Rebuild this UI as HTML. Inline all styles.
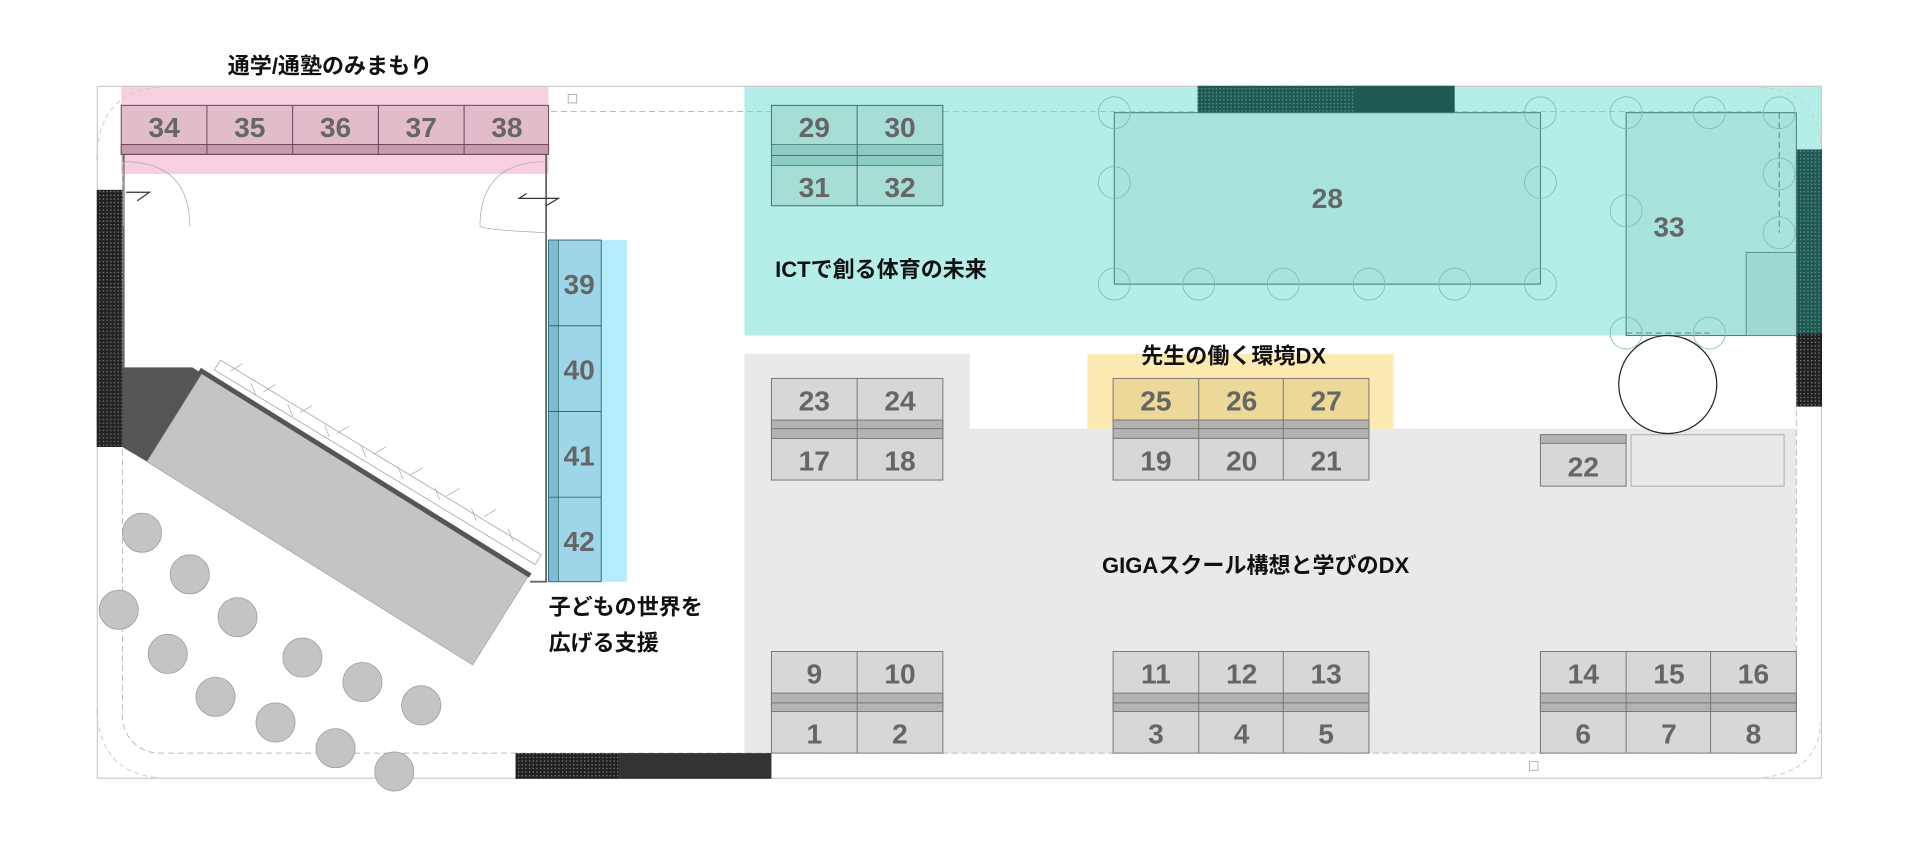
<!DOCTYPE html>
<html><head><meta charset="utf-8"><style>
html,body{margin:0;padding:0;background:#fff;width:1920px;height:845px;overflow:hidden}
svg{display:block}
.n{font-family:"Liberation Sans","Noto Sans CJK JP",sans-serif;font-weight:bold;font-size:23px;fill:#666;text-anchor:middle}
.t{font-family:"Liberation Sans","Noto Sans CJK JP",sans-serif;font-weight:bold;font-size:18px;fill:#111}
</style></head><body>
<svg width="1920" height="845" viewBox="0 0 1568 690" xmlns="http://www.w3.org/2000/svg">
<defs>
<pattern id="hb" width="3" height="3" patternUnits="userSpaceOnUse"><rect width="3" height="3" fill="#222"/><rect width="1" height="1" fill="#888"/></pattern>
<pattern id="ht" width="3" height="3" patternUnits="userSpaceOnUse"><rect width="3" height="3" fill="#1e5a53"/><rect width="1" height="1" fill="#6a9a94"/></pattern>
</defs>
<rect x="99" y="70" width="349" height="72" fill="#f7cfe0"/>
<rect x="448" y="196" width="64" height="279" fill="#b3ecfa"/>
<rect x="608" y="70" width="880" height="204" fill="#b3efe8"/>
<path d="M608 289H792V350H1467V615H608Z" fill="#e8e9eb"/>
<rect x="888" y="289" width="250" height="61" fill="#fdeab0"/>
<rect x="79.5" y="70.5" width="1408" height="565" fill="none" stroke="#ccc" stroke-width="1"/>
<rect x="100" y="91" width="1367" height="524" rx="30" fill="none" stroke="#bbb" stroke-dasharray="5,3" stroke-width="0.8"/>
<path d="M79 130 Q80 75 130 71 M1438 71 Q1485 75 1487 120 M79 580 Q82 632 130 635 M1440 635 Q1485 630 1487 590" fill="none" stroke="#ccc" stroke-dasharray="4,3" stroke-width="0.8"/>
<rect x="464" y="77" width="7" height="7" fill="#fff" stroke="#999" stroke-width="0.6"/>
<rect x="1249" y="622" width="7" height="7" fill="#fff" stroke="#999" stroke-width="0.6"/>
<rect x="79" y="155" width="21" height="80" fill="url(#hb)"/>
<rect x="79" y="235" width="21" height="130" fill="#333"/>
<rect x="79" y="235" width="21" height="130" fill="url(#hb)" opacity="0.8"/>
<rect x="421" y="615" width="85" height="21" fill="url(#hb)"/>
<rect x="506" y="615" width="124" height="21" fill="#333"/>
<rect x="978" y="70" width="127" height="22" fill="url(#ht)"/>
<rect x="1105" y="70" width="83" height="22" fill="#1e5a53"/>
<rect x="1467" y="122" width="21" height="150" fill="url(#ht)"/>
<rect x="1467" y="272" width="21" height="60" fill="url(#hb)"/>
<path d="M101 126V300M446 126V475H433" fill="none" stroke="#666" stroke-width="1.5"/>
<path d="M101 132 Q155 132 155 185 M101 185 V132" fill="none" stroke="#aaa" stroke-width="0.6"/>
<path d="M446 132 Q392 132 392 185 Q400 188 446 190" fill="none" stroke="#aaa" stroke-width="0.6"/>
<path d="M103 157H122L112 164M430 158L424 162H456L446 168" fill="none" stroke="#333" stroke-width="1"/>
<rect x="99" y="86" width="349" height="40" fill="#e3bccb" stroke="#6e4456" stroke-width="0.8"/>
<rect x="99" y="118" width="349" height="8" fill="#c99aad" stroke="#6e4456" stroke-width="0.8"/>
<path d="M169 86V126M239 86V126M309 86V126M379 86V126" stroke="#6e4456" stroke-width="0.8"/>
<text class="n" x="134" y="112">34</text><text class="n" x="204" y="112">35</text><text class="n" x="274" y="112">36</text><text class="n" x="344" y="112">37</text><text class="n" x="414" y="112">38</text>
<rect x="448" y="196" width="43" height="279" fill="#9dd6e8" stroke="#2e6a7a" stroke-width="0.8"/>
<rect x="448" y="196" width="8" height="279" fill="#7fbcd0" stroke="#2e6a7a" stroke-width="0.6"/>
<path d="M448 266H491M448 336H491M448 406H491" stroke="#2e6a7a" stroke-width="0.8"/>
<text class="n" x="473" y="240">39</text><text class="n" x="473" y="310">40</text><text class="n" x="473" y="380">41</text><text class="n" x="473" y="450">42</text>
<path d="M100 300H157L165 305L120 377L100 365Z" fill="#555"/>
<path d="M165 305L433 468L386 543L120 377Z" fill="#c4c4c4" stroke="#999" stroke-width="0.5"/>
<path d="M163 302L433 470" stroke="#555" stroke-width="4"/>
<path d="M180 294L442 453L437 461L175 302Z" fill="#fff" stroke="#aaa" stroke-width="0.7"/>
<path d="M188 303l10 -6M205 313l4 10M215 320l10 -6M235 330l4 10M245 337l10 -6M265 347l4 10M275 354l10 -6M295 364l4 10M305 371l10 -6M325 381l4 10M335 388l10 -6M355 398l4 10M365 405l10 -6M385 415l4 10M395 422l10 -6M415 432l4 10" stroke="#aaa" stroke-width="0.6"/>
<g fill="#c4c4c4" stroke="#999" stroke-width="0.6">
<circle cx="116" cy="435" r="16"/><circle cx="155" cy="469" r="16"/><circle cx="97" cy="498" r="16"/><circle cx="194" cy="504" r="16"/><circle cx="137" cy="534" r="16"/><circle cx="247" cy="537" r="16"/><circle cx="176" cy="569" r="16"/><circle cx="296" cy="557" r="16"/><circle cx="225" cy="590" r="16"/><circle cx="344" cy="576" r="16"/><circle cx="274" cy="611" r="16"/><circle cx="322" cy="630" r="16"/>
</g>
<rect x="910" y="92" width="348" height="140" fill="#a8e4dc" stroke="#4a7a72" stroke-width="0.8"/>
<rect x="1328" y="92" width="139" height="182" fill="#a8e4dc" stroke="#4a7a72" stroke-width="0.8"/>
<rect x="1426" y="206" width="41" height="68" fill="#9fdad2" stroke="#4a7a72" stroke-width="0.6"/>
<path d="M910 232H1258M1328 272H1396M1453 92V190" stroke="#4a7a72" stroke-dasharray="5,3" stroke-width="0.7" fill="none"/>
<g fill="none" stroke="#7fbdb3" stroke-width="0.7">
<circle cx="910" cy="92" r="13"/><circle cx="1258" cy="92" r="13"/><circle cx="910" cy="149" r="13"/><circle cx="1258" cy="149" r="13"/>
<circle cx="910" cy="232" r="13"/><circle cx="979" cy="232" r="13"/><circle cx="1048" cy="232" r="13"/><circle cx="1118" cy="232" r="13"/><circle cx="1188" cy="232" r="13"/><circle cx="1258" cy="232" r="13"/>
<circle cx="1328" cy="92" r="13"/><circle cx="1396" cy="92" r="13"/><circle cx="1453" cy="92" r="13"/><circle cx="1328" cy="172" r="13"/><circle cx="1453" cy="142" r="13"/><circle cx="1453" cy="190" r="13"/><circle cx="1328" cy="272" r="13"/><circle cx="1396" cy="272" r="13"/>
</g>
<text class="n" x="1084" y="170">28</text><text class="n" x="1363" y="193">33</text>
<rect x="630" y="86" width="140" height="82" fill="#a6ddd5" stroke="#3e7068" stroke-width="0.8"/>
<rect x="630" y="118" width="140" height="17" fill="#8ecbc2" stroke="#3e7068" stroke-width="0.6"/>
<path d="M630 127H770M700 86V168" stroke="#3e7068" stroke-width="0.8"/>
<text class="n" x="665" y="112">29</text><text class="n" x="735" y="112">30</text><text class="n" x="665" y="161">31</text><text class="n" x="735" y="161">32</text>
<g stroke="#777" stroke-width="0.8">
<rect x="630" y="309" width="140" height="83" fill="#d6d7d9"/><rect x="630" y="343" width="140" height="15" fill="#b3b3b3"/><path d="M630 350H770M700 309V392"/>
<rect x="909" y="309" width="209" height="34" fill="#ecd99a"/><rect x="909" y="343" width="209" height="15" fill="#b3b3b3"/><rect x="909" y="358" width="209" height="34" fill="#d6d7d9"/><path d="M909 350H1118M979 309V392M1048 309V392"/>
<rect x="630" y="532" width="140" height="83" fill="#d6d7d9"/><rect x="630" y="566" width="140" height="15" fill="#b3b3b3"/><path d="M630 574H770M700 532V615"/>
<rect x="909" y="532" width="209" height="83" fill="#d6d7d9"/><rect x="909" y="566" width="209" height="15" fill="#b3b3b3"/><path d="M909 574H1118M979 532V615M1048 532V615"/>
<rect x="1258" y="532" width="209" height="83" fill="#d6d7d9"/><rect x="1258" y="566" width="209" height="15" fill="#b3b3b3"/><path d="M1258 574H1467M1328 532V615M1397 532V615"/>
<rect x="1258" y="355" width="70" height="42" fill="#d6d7d9"/><rect x="1258" y="355" width="70" height="7" fill="#b3b3b3"/>
<rect x="1332" y="355" width="125" height="42" fill="#e8e9eb" stroke="#aaa"/>
</g>
<circle cx="1362" cy="314" r="40" fill="#fff" stroke="#222" stroke-width="1"/>
<text class="n" x="665" y="335">23</text><text class="n" x="735" y="335">24</text><text class="n" x="665" y="384">17</text><text class="n" x="735" y="384">18</text>
<text class="n" x="944" y="335">25</text><text class="n" x="1014" y="335">26</text><text class="n" x="1083" y="335">27</text>
<text class="n" x="944" y="384">19</text><text class="n" x="1014" y="384">20</text><text class="n" x="1083" y="384">21</text>
<text class="n" x="1293" y="389">22</text>
<text class="n" x="665" y="558">9</text><text class="n" x="735" y="558">10</text><text class="n" x="665" y="607">1</text><text class="n" x="735" y="607">2</text>
<text class="n" x="944" y="558">11</text><text class="n" x="1014" y="558">12</text><text class="n" x="1083" y="558">13</text>
<text class="n" x="944" y="607">3</text><text class="n" x="1014" y="607">4</text><text class="n" x="1083" y="607">5</text>
<text class="n" x="1293" y="558">14</text><text class="n" x="1363" y="558">15</text><text class="n" x="1432" y="558">16</text>
<text class="n" x="1293" y="607">6</text><text class="n" x="1363" y="607">7</text><text class="n" x="1432" y="607">8</text>
<text class="t" x="186" y="60">通学/通塾のみまもり</text>
<text class="t" x="633" y="226">ICTで創る体育の未来</text>
<text class="t" x="932" y="297">先生の働く環境DX</text>
<text class="t" x="900" y="468">GIGAスクール構想と学びのDX</text>
<text class="t" x="448" y="502">子どもの世界を</text>
<text class="t" x="448" y="531">広げる支援</text>
</svg>
</body></html>
